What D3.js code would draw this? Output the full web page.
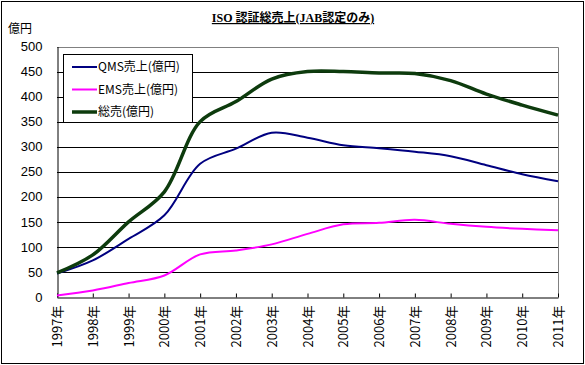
<!DOCTYPE html>
<html>
<head>
<meta charset="utf-8">
<script src="https://cdn.jsdelivr.net/npm/d3@7"></script>
<style>
  body { margin: 0; background: #fff; }
  text { font-family: "Noto Sans CJK JP", "DejaVu Sans", sans-serif; }
</style>
</head>
<body>
<script>
// chart data
var years = ["1997年", "1998年", "1999年", "2000年", "2001年", "2002年", "2003年", "2004年",
             "2005年", "2006年", "2007年", "2008年", "2009年", "2010年", "2011年"];
var qms = [47, 73, 116, 163, 266, 296, 328, 318, 303, 297, 290, 281, 263, 245, 231];
var ems = [3, 13, 28, 43, 85, 93, 105, 126, 145, 148, 154, 146, 140, 136, 133];
var total = [48, 84, 150, 210, 350, 390, 435, 450, 450, 447, 446, 432, 405, 383, 363];
var yTicks = [0, 50, 100, 150, 200, 250, 300, 350, 400, 450, 500];
var seriesNames = ["QMS売上(億円)", "EMS売上(億円)", "総売(億円)"];

var width = 585, height = 365;
var plotLeft = 57, plotRight = 558, plotTop = 46.5, plotBottom = 297;

var svg = d3.select("body").append("svg")
    .attr("width", width)
    .attr("height", height);

// outer border
svg.append("rect")
    .attr("x", 1.5).attr("y", 1.5)
    .attr("width", width - 3).attr("height", height - 3)
    .attr("fill", "#fff").attr("stroke", "#000").attr("stroke-width", 1);

var x = d3.scalePoint().domain(years).range([plotLeft, plotRight]);
var y = d3.scaleLinear().domain([0, 500]).range([plotBottom, plotTop]);

// gridlines
svg.selectAll(".grid")
    .data(yTicks.slice(1, -1))
    .enter().append("line")
    .attr("x1", plotLeft).attr("x2", plotRight)
    .attr("y1", function(d) { return Math.round(y(d)) + 0.5; })
    .attr("y2", function(d) { return Math.round(y(d)) + 0.5; })
    .attr("stroke", "#000");

// plot area border (top + right in gray)
svg.append("path")
    .attr("d", "M" + plotLeft + "," + (Math.round(plotTop) + 0.5) + "H" + (plotRight + 0.5) + "V" + plotBottom)
    .attr("fill", "none").attr("stroke", "#808080");

// y axis
var yAxis = svg.append("g")
    .attr("transform", "translate(" + (plotLeft + 0.5) + ",0)")
    .call(d3.axisLeft(y).tickValues(yTicks).tickSize(0).tickPadding(15));
yAxis.select(".domain").attr("stroke", "#000");
yAxis.selectAll("text").attr("font-size", 13).attr("fill", "#000")
    .style("font-family", "\"Liberation Sans Narrow\", \"Liberation Sans\", sans-serif");

// x axis
var xAxis = svg.append("g")
    .attr("transform", "translate(0," + (plotBottom + 0.5) + ")")
    .call(d3.axisBottom(x).tickSize(-4).tickSizeOuter(0));
xAxis.select(".domain").attr("stroke", "#000");
xAxis.selectAll("line").attr("stroke", "#000");
xAxis.selectAll("text")
    .attr("font-size", 13).attr("fill", "#000")
    .attr("transform", "rotate(-90)")
    .attr("text-anchor", "end")
    .attr("x", -8).attr("y", 0).attr("dy", "0.35em");

// lines
var line = d3.line()
    .x(function(d, i) { return x(years[i]); })
    .y(function(d) { return y(d); })
    .curve(d3.curveCatmullRom.alpha(0.5));

var series = [
  { values: qms, color: "#000080", width: 2 },
  { values: ems, color: "#ff00ff", width: 2 },
  { values: total, color: "#0d3b0d", width: 3.5 }
];

svg.selectAll(".series")
    .data(series)
    .enter().append("path")
    .attr("fill", "none")
    .attr("stroke", function(d) { return d.color; })
    .attr("stroke-width", function(d) { return d.width; })
    .attr("d", function(d) { return line(d.values); });

// legend
var legend = svg.append("g");
legend.append("rect")
    .attr("x", 63.5).attr("y", 54.5).attr("width", 129).attr("height", 68)
    .attr("fill", "#fff").attr("stroke", "#000");
var item = legend.selectAll(".item")
    .data(series)
    .enter().append("g")
    .attr("transform", function(d, i) { return "translate(0," + (67 + i * 22.5) + ")"; });
item.append("line")
    .attr("x1", 72).attr("x2", 97)
    .attr("stroke", function(d) { return d.color; })
    .attr("stroke-width", function(d) { return d.width; });
item.append("text")
    .attr("x", 98).attr("dy", "0.35em")
    .attr("font-size", 12)
    .text(function(d, i) { return seriesNames[i]; });

// title and unit
svg.append("text")
    .attr("x", 293).attr("y", 22)
    .attr("text-anchor", "middle")
    .attr("font-size", 12).attr("font-weight", "bold")
    .attr("text-decoration", "underline")
    .style("font-family", "\"Liberation Serif\", \"Noto Sans CJK JP\", serif")
    .text("ISO 認証総売上(JAB認定のみ)");

svg.append("text")
    .attr("x", 8).attr("y", 33)
    .attr("font-size", 12)
    .text("億円");
</script>
</body>
</html>
